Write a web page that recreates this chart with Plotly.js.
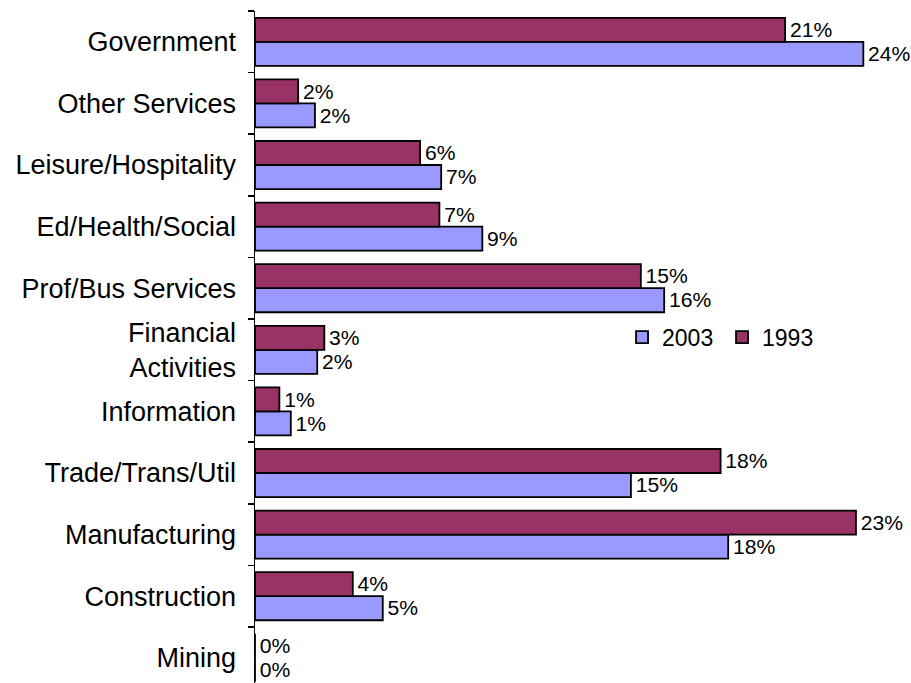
<!DOCTYPE html>
<html>
<head>
<meta charset="utf-8">
<script src="https://cdn.plot.ly/plotly-3.0.1.min.js"></script>
<style>html,body{margin:0;padding:0;background:#fff}#chart{width:911px;height:683px}</style>
</head>
<body>
<div id="chart"></div>
<script>
// Categories, bottom to top
const categories = ["Mining", "Construction", "Manufacturing", "Trade/Trans/Util", "Information",
  "Financial<br>Activities", "Prof/Bus Services", "Ed/Health/Social", "Leisure/Hospitality",
  "Other Services", "Government"];
// Share of employment (%)
const values2003 = [0, 5.03, 18.63, 14.80, 1.41, 2.45, 16.11, 8.95, 7.33, 2.36, 23.95];
const values1993 = [0, 3.85, 23.66, 18.33, 0.96, 2.73, 15.19, 7.26, 6.50, 1.70, 20.87];
// Printed data labels
const labels2003 = ["0%", "5%", "18%", "15%", "1%", "2%", "16%", "9%", "7%", "2%", "24%"];
const labels1993 = ["0%", "4%", "23%", "18%", "1%", "3%", "15%", "7%", "6%", "2%", "21%"];

const FONT = "Liberation Sans, Arial, sans-serif";

function barTrace(name, x, labels, color) {
  return {
    type: "bar", orientation: "h", name: name,
    y: categories, x: x, text: labels,
    texttemplate: "\u200A%{text}",
    textposition: "outside", cliponaxis: false, textangle: 0,
    textfont: {family: FONT, size: 22, color: "#000"},
    marker: {color: color, line: {color: "#000", width: 1.8}},
    hoverinfo: "skip"
  };
}

const traces = [
  barTrace("2003", values2003, labels2003, "#9999FF"),
  barTrace("1993", values1993, labels1993, "#993366")
];

const layout = {
  width: 911, height: 683,
  margin: {l: 255, r: 21, t: 11, b: 0, pad: 0},
  paper_bgcolor: "#fff", plot_bgcolor: "#fff",
  font: {family: FONT, color: "#000"},
  barmode: "group", bargap: 0.22, bargroupgap: 0,
  showlegend: true,
  legend: {
    orientation: "h", x: 0.578, xanchor: "left", y: 0.5145, yanchor: "middle",
    font: {family: FONT, size: 23, color: "#000"},
    entrywidth: 55,
    bgcolor: "rgba(0,0,0,0)", traceorder: "normal", itemclick: false
  },
  xaxis: {
    range: [0, 25], showgrid: false, zeroline: false, showline: false,
    showticklabels: false, ticks: ""
  },
  yaxis: {
    type: "category", range: [-0.409, 10.5],
    showline: true, linecolor: "#000", linewidth: 1.5,
    ticks: "outside", tickson: "boundaries", ticklen: 6, tickcolor: "#000", tickwidth: 1.5,
    tickfont: {family: FONT, size: 27, color: "#000"},
    ticklabelstandoff: 12,
    showgrid: false, zeroline: false
  }
};

Plotly.newPlot("chart", traces, layout, {staticPlot: true, displayModeBar: false});
</script>
</body>
</html>
